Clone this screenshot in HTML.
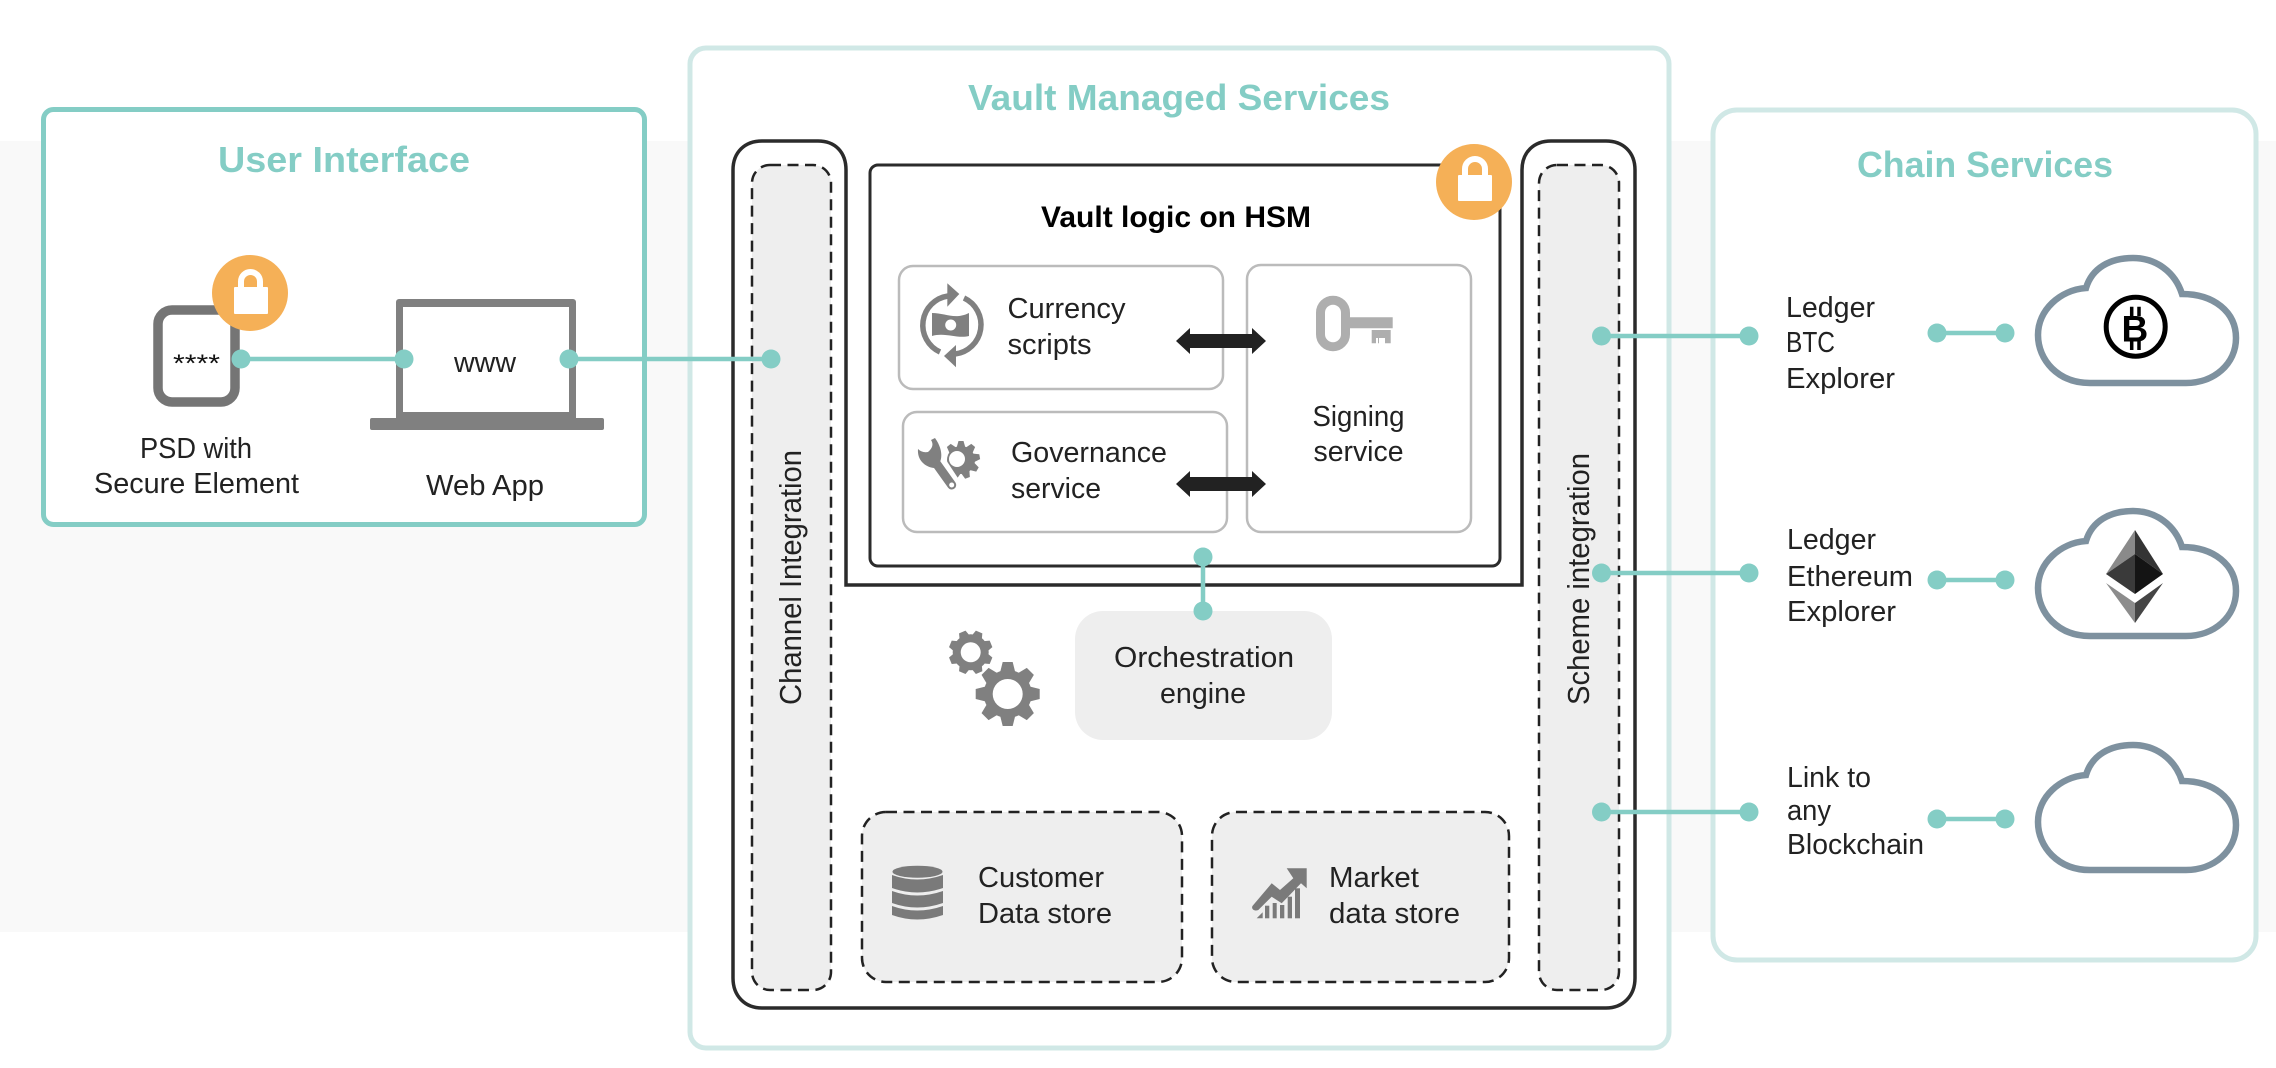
<!DOCTYPE html>
<html><head><meta charset="utf-8"><style>
html,body{margin:0;padding:0;background:#fff}
svg{display:block}
text{font-family:"Liberation Sans",sans-serif}
.l{font-size:29px;fill:#222}
.h{font-size:36px;font-weight:bold;fill:#84cdc5}
.d{fill:#84cdc5}
.c{stroke:#84cdc5;stroke-width:4.5;fill:none}
.ds{fill:#eee;stroke:#222;stroke-width:2.5;stroke-dasharray:11 6.5}
.bx{fill:#fff;stroke:#bbb;stroke-width:2.5}
.cl{fill:#fff;stroke:#7e919f;stroke-width:6.5}
</style></head><body>
<svg width="2276" height="1068" viewBox="0 0 2276 1068" xmlns="http://www.w3.org/2000/svg">
<defs>
<path id="cloud" d="M2090 383C2058 383 2038 360 2038 335C2038 310 2060 290 2086 288C2092 268 2110 258 2133 258C2156 258 2175 272 2182 294C2214 294 2236 312 2236 338C2236 364 2214 383 2186 383Z"/>
<path id="tb" d="M-5 -32H5L8 -20H-8Z"/>
<path id="ts" d="M-3.500 -22H3.500L6 -14H-6Z"/>
<path id="tg" d="M-2.500 -19H2.500L4.500 -12H-4.500Z"/>
</defs>
<rect width="2276" height="1068" fill="#fff"/>
<rect x="0" y="141" width="2276" height="791" fill="#f9f9f9"/>

<!-- outer boxes -->
<rect x="43.500" y="109.500" width="601" height="415" rx="10" fill="#fff" stroke="#84cdc5" stroke-width="5"/>
<rect x="690" y="48" width="979" height="1000" rx="16" fill="#fff" stroke="#d0e8e6" stroke-width="5"/>
<rect x="1713" y="110" width="543" height="850" rx="24" fill="#fff" stroke="#d0e8e6" stroke-width="5"/>

<!-- titles -->
<text class="h" x="218" y="172" textLength="252" lengthAdjust="spacingAndGlyphs">User Interface</text>
<text class="h" x="968" y="110" textLength="422" lengthAdjust="spacingAndGlyphs">Vault Managed Services</text>
<text class="h" x="1857" y="177" textLength="256" lengthAdjust="spacingAndGlyphs">Chain Services</text>

<!-- UI contents -->
<rect x="158" y="310" width="77" height="92" rx="14" fill="#fff" stroke="#757575" stroke-width="9.500"/>
<rect x="396" y="299" width="180" height="125" rx="3" fill="#808080"/>
<rect x="403" y="307" width="166" height="105" fill="#fff"/>
<rect x="370" y="418" width="234" height="12" rx="2" fill="#808080"/>
<circle cx="250" cy="293" r="38" fill="#f5b057"/>
<rect x="234" y="287" width="34" height="27" rx="1" fill="#fff"/>
<path d="M241 288V281.500A9.500 9.500 0 0 1 260 281.500V288" fill="none" stroke="#fff" stroke-width="6"/>
<text x="173" y="372" font-size="25" fill="#111" textLength="47" lengthAdjust="spacingAndGlyphs">****</text>
<text class="l" x="454" y="372" textLength="62" lengthAdjust="spacingAndGlyphs">www</text>
<text class="l" x="140" y="458" textLength="112" lengthAdjust="spacingAndGlyphs">PSD with</text>
<text class="l" x="94" y="493" textLength="205" lengthAdjust="spacingAndGlyphs">Secure Element</text>
<text class="l" x="426" y="495" textLength="118" lengthAdjust="spacingAndGlyphs">Web App</text>

<!-- black service frame -->
<path d="M733 170C733 152 745 141 762 141H818C835 141 846 152 846 170V585H1522V170C1522 152 1534 141 1551 141H1606C1623 141 1635 152 1635 170V978C1635 996 1623 1008 1606 1008H762C745 1008 733 996 733 978Z" fill="#fff" stroke="#2b2b2b" stroke-width="3.500"/>

<!-- HSM box -->
<rect x="870" y="165" width="630" height="401" rx="8" fill="#fff" stroke="#2b2b2b" stroke-width="3"/>
<circle cx="1474" cy="182" r="38" fill="#f5b057"/>
<rect x="1458" y="175" width="34" height="26" rx="1" fill="#fff"/>
<path d="M1465 176V169A10 10 0 0 1 1485 169V176" fill="none" stroke="#fff" stroke-width="6"/>
<text x="1041" y="227" font-size="30" font-weight="bold" fill="#000" textLength="270" lengthAdjust="spacingAndGlyphs">Vault logic on HSM</text>

<rect class="bx" x="899" y="266" width="324" height="123" rx="14"/>
<rect class="bx" x="903" y="412" width="324" height="120" rx="14"/>
<rect class="bx" x="1247" y="265" width="224" height="267" rx="14"/>

<text class="l" x="1007.500" y="318" textLength="118" lengthAdjust="spacingAndGlyphs">Currency</text>
<text class="l" x="1007.500" y="354" textLength="84" lengthAdjust="spacingAndGlyphs">scripts</text>
<text class="l" x="1011" y="462" textLength="156" lengthAdjust="spacingAndGlyphs">Governance</text>
<text class="l" x="1011" y="498" textLength="90" lengthAdjust="spacingAndGlyphs">service</text>
<text class="l" x="1312.500" y="426" textLength="92" lengthAdjust="spacingAndGlyphs">Signing</text>
<text class="l" x="1313.500" y="461" textLength="90" lengthAdjust="spacingAndGlyphs">service</text>

<!-- double arrows -->
<path d="M1176 341L1190 328V334H1252V328L1266 341L1252 354V348H1190V354Z" fill="#222"/>
<path d="M1176 484L1190 471V477H1252V471L1266 484L1252 497V491H1190V497Z" fill="#222"/>

<!-- currency icon -->
<g fill="none" stroke="#808080" stroke-width="5.500">
<path d="M948 296A29.500 29.500 0 0 0 940 352"/>
<path d="M964 298A29.500 29.500 0 0 1 955 354"/>
</g>
<path d="M959.300 294L947.300 283.300V306.700Z" fill="#808080"/>
<path d="M944 356L956 345V367.300Z" fill="#808080"/>
<path d="M932 313C945 313 955 320 969 313V336C957 339 945 332 932 336Z" fill="#808080"/>
<circle cx="950.700" cy="325" r="5.500" fill="#fff"/>

<!-- governance icon -->
<g fill="#808080" transform="translate(961 460)">
<circle r="14"/>
<use href="#tg"/><use href="#tg" transform="rotate(40)"/><use href="#tg" transform="rotate(80)"/><use href="#tg" transform="rotate(120)"/><use href="#tg" transform="rotate(160)"/><use href="#tg" transform="rotate(200)"/><use href="#tg" transform="rotate(320)"/>
<circle cx="-4" cy="-1" r="8" fill="#fff"/>
</g>
<path d="M930 452L953 487" stroke="#fff" stroke-width="18" fill="none"/>
<path d="M931 456L951.700 485" stroke="#808080" stroke-width="9" stroke-linecap="round" fill="none"/>
<path d="M918 449C917 460 925 467 934 468C942 465 945 452 935 438L931 440Q935 446 928 452Q922 453 918 449Z" fill="#808080"/>
<circle cx="951.700" cy="485" r="2.500" fill="#fff"/>

<!-- key icon -->
<rect x="1320.500" y="300.200" width="25" height="46.500" rx="12.500" fill="none" stroke="#aeaeae" stroke-width="9"/>
<path d="M1349 317.300H1392.700V328.300H1349Z" fill="#aeaeae"/>
<path d="M1371.700 330H1390.700V343.300H1385V338H1379V343.300H1378V338H1376V343.300H1371.700Z" fill="#aeaeae"/>

<!-- side columns -->
<rect class="ds" x="752" y="165" width="79" height="825" rx="18"/>
<rect class="ds" x="1539" y="165" width="80" height="825" rx="18"/>
<text x="801" y="705" font-size="31" fill="#222" transform="rotate(-90 801 705)" textLength="255" lengthAdjust="spacingAndGlyphs">Channel Integration</text>
<text x="1589" y="705" font-size="31" fill="#222" transform="rotate(-90 1589 705)" textLength="252" lengthAdjust="spacingAndGlyphs">Scheme integration</text>

<!-- orchestration -->
<rect x="1075" y="611" width="257" height="129" rx="28" fill="#eee"/>
<text class="l" x="1114" y="667" textLength="180" lengthAdjust="spacingAndGlyphs">Orchestration</text>
<text class="l" x="1160" y="703" textLength="86" lengthAdjust="spacingAndGlyphs">engine</text>

<!-- gears -->
<g fill="#808080" transform="translate(970.700 652.300)">
<circle r="18"/>
<use href="#ts" transform="rotate(22.500)"/><use href="#ts" transform="rotate(67.500)"/><use href="#ts" transform="rotate(112.500)"/><use href="#ts" transform="rotate(157.500)"/><use href="#ts" transform="rotate(202.500)"/><use href="#ts" transform="rotate(247.500)"/><use href="#ts" transform="rotate(292.500)"/><use href="#ts" transform="rotate(337.500)"/>
<circle r="10" fill="#fff"/>
</g>
<circle cx="1007.700" cy="694" r="27" fill="#fff"/>
<g fill="#808080" transform="translate(1007.700 694)">
<circle r="24"/>
<use href="#tb"/><use href="#tb" transform="rotate(45)"/><use href="#tb" transform="rotate(90)"/><use href="#tb" transform="rotate(135)"/><use href="#tb" transform="rotate(180)"/><use href="#tb" transform="rotate(225)"/><use href="#tb" transform="rotate(270)"/><use href="#tb" transform="rotate(315)"/>
<circle r="15" fill="#fff"/>
</g>

<!-- data stores -->
<rect class="ds" x="862" y="812" width="320" height="170" rx="24"/>
<rect class="ds" x="1212" y="812" width="297" height="170" rx="24"/>
<g fill="#7a7a7a">
<ellipse cx="917.500" cy="871.700" rx="25" ry="6"/>
<path d="M892 875Q917 884 943 875V888Q917 897 892 888Z"/>
<path d="M892 891Q917 900 943 891V903Q917 912 892 903Z"/>
<path d="M892 906Q917 915 943 906V915Q917 924 892 915Z"/>
</g>
<g fill="#7a7a7a">
<path d="M1253.300 905L1271.700 883.300L1280 890L1293.300 878.300L1286.700 868.300H1306.700V888.300L1301 883.300L1281.700 903.300L1271.700 896.700L1258.300 910C1254 912 1250 908 1253.300 905Z"/>
<path d="M1256.700 918.300L1262.700 912.300V918.300Z"/>
<rect x="1265" y="905.700" width="4.300" height="12.600"/>
<rect x="1272.700" y="903" width="4" height="15.300"/>
<rect x="1280" y="905" width="4.300" height="13.300"/>
<rect x="1287.700" y="896.700" width="4.300" height="21.600"/>
<rect x="1295" y="888.300" width="5" height="30"/>
</g>
<text class="l" x="978" y="887" textLength="126" lengthAdjust="spacingAndGlyphs">Customer</text>
<text class="l" x="978" y="923" textLength="134" lengthAdjust="spacingAndGlyphs">Data store</text>
<text class="l" x="1329" y="887" textLength="90" lengthAdjust="spacingAndGlyphs">Market</text>
<text class="l" x="1329" y="923" textLength="131" lengthAdjust="spacingAndGlyphs">data store</text>

<!-- connectors -->
<path class="c" d="M241 359H404"/>
<path class="c" d="M569 359H771"/>
<path class="c" d="M1203 557V611"/>
<path class="c" d="M1601 336H1749"/>
<path class="c" d="M1601 573H1749"/>
<path class="c" d="M1601 812H1749"/>
<path class="c" d="M1937 333H2005"/>
<path class="c" d="M1937 580H2005"/>
<path class="c" d="M1937 819H2005"/>
<g class="d">
<circle cx="241" cy="359" r="9.500"/><circle cx="404" cy="359" r="9.500"/><circle cx="569" cy="359" r="9.500"/><circle cx="771" cy="359" r="9.500"/>
<circle cx="1203" cy="557" r="9.500"/><circle cx="1203" cy="611" r="9.500"/>
<circle cx="1601.500" cy="336" r="9.500"/><circle cx="1749" cy="336" r="9.500"/>
<circle cx="1601.500" cy="573" r="9.500"/><circle cx="1749" cy="573" r="9.500"/>
<circle cx="1601.500" cy="812" r="9.500"/><circle cx="1749" cy="812" r="9.500"/>
<circle cx="1937" cy="333" r="9.500"/><circle cx="2005" cy="333" r="9.500"/>
<circle cx="1937" cy="580" r="9.500"/><circle cx="2005" cy="580" r="9.500"/>
<circle cx="1937" cy="819" r="9.500"/><circle cx="2005" cy="819" r="9.500"/>
</g>

<!-- chain labels -->
<text class="l" x="1786" y="317" textLength="89" lengthAdjust="spacingAndGlyphs">Ledger</text>
<text class="l" x="1786" y="352" textLength="49" lengthAdjust="spacingAndGlyphs">BTC</text>
<text class="l" x="1786" y="388" textLength="109" lengthAdjust="spacingAndGlyphs">Explorer</text>
<text class="l" x="1787" y="549" textLength="89" lengthAdjust="spacingAndGlyphs">Ledger</text>
<text class="l" x="1787" y="586" textLength="126" lengthAdjust="spacingAndGlyphs">Ethereum</text>
<text class="l" x="1787" y="621" textLength="109" lengthAdjust="spacingAndGlyphs">Explorer</text>
<text class="l" x="1787" y="787" textLength="84" lengthAdjust="spacingAndGlyphs">Link to</text>
<text class="l" x="1787" y="820" textLength="44" lengthAdjust="spacingAndGlyphs">any</text>
<text class="l" x="1787" y="854" textLength="137" lengthAdjust="spacingAndGlyphs">Blockchain</text>

<!-- clouds -->
<use href="#cloud" class="cl"/>
<use href="#cloud" class="cl" transform="translate(0 253)"/>
<use href="#cloud" class="cl" transform="translate(0 487)"/>

<!-- bitcoin -->
<circle cx="2135.700" cy="326.700" r="29.500" fill="#fff" stroke="#000" stroke-width="5"/>
<text x="2121.500" y="341.700" font-size="37" font-weight="bold" fill="#000">B</text>
<path d="M2131.700 306.700V316M2139 306.700V316M2131.700 340V350M2139 340V350" stroke="#000" stroke-width="3.500"/>

<!-- ethereum -->
<path d="M2135 530L2106 574L2135 554Z" fill="#8a8a8a"/>
<path d="M2135 530L2163 574L2135 554Z" fill="#343434"/>
<path d="M2135 554L2106 574L2135 594Z" fill="#3a3a3a"/>
<path d="M2135 554L2163 574L2135 594Z" fill="#141414"/>
<path d="M2106 583L2135 603V623Z" fill="#8c8c8c"/>
<path d="M2163 583L2135 603V623Z" fill="#454545"/>
</svg>
</body></html>
